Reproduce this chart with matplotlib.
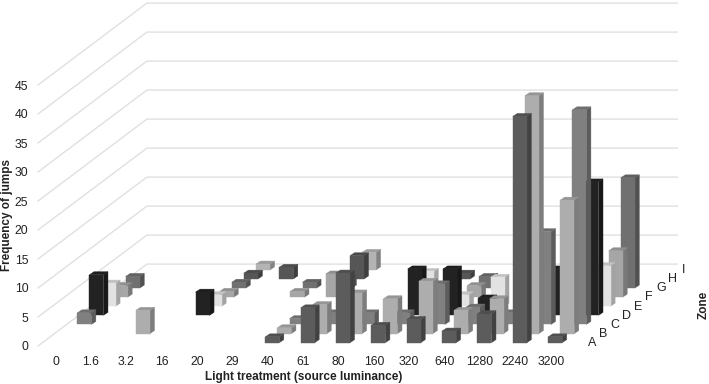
import matplotlib
matplotlib.use("Agg")
import matplotlib.pyplot as plt
from matplotlib.colors import to_rgb

plt.rcParams['font.family'] = ['Liberation Sans', 'DejaVu Sans']

categories = ['0', '1.6', '3.2', '16', '20', '29', '40', '61', '80', '160', '320', '640', '1280', '2240', '3200']
zones = ['A', 'B', 'C', 'D', 'E', 'F', 'G', 'H', 'I']
yticks = [0, 5, 10, 15, 20, 25, 30, 35, 40, 45]

zone_a = [0, 0, 0, 0, 0, 0, 1, 6, 12, 3, 4, 2, 5, 39, 1]
zone_b = [0, 0, 4, 0, 0, 0, 1, 5, 7, 6, 9, 4, 6, 41, 23]
zone_c = [2, 0, 0, 0, 0, 0, 1, 2, 2, 2, 7, 3, 2, 16, 37]
zone_d = [7, 0, 0, 4, 0, 0, 0, 0, 0, 8, 8, 3, 0, 8, 23]
zone_e = [4, 0, 0, 2, 0, 0, 0, 0, 0, 6, 2, 5, 0, 0, 7]
zone_f = [2, 0, 0, 1, 0, 1, 4, 0, 0, 0, 2, 0, 0, 0, 8]
zone_g = [2, 0, 0, 1, 0, 1, 2, 0, 0, 0, 2, 0, 0, 0, 19]
zone_h = [0, 0, 0, 1, 2, 0, 4, 0, 0, 1, 0, 0, 0, 0, 0]
zone_i = [0, 0, 0, 1, 0, 0, 3, 0, 0, 0, 0, 0, 0, 0, 0]
zone_values = [zone_a, zone_b, zone_c, zone_d, zone_e, zone_f, zone_g, zone_h, zone_i]
zone_colors = ['#5c5c5c', '#adadad', '#808080', '#222222', '#e2e2e2', '#a6a6a6', '#707070', '#565656', '#b4b4b4']

# one zone step on the oblique projection, in category / value units
dx = 12.1 / 35.36
dy = 9.1 / 5.8
bar_w = 14 / 35.36
bar_dx = 4.5 / 35.36
bar_dy = 3 / 5.8
gap = 0.37


def shade(c, f):
    return tuple(v * f for v in to_rgb(c))


W, H = 709, 384
fig = plt.figure(figsize=(W / 100, H / 100), dpi=100)
ax = fig.add_axes([38 / W, 1 - 346 / H, 530.4 / W, 261 / H])
ax.set_xlim(-0.5, 14.5)
ax.set_ylim(0, 45)
for s in ax.spines.values():
    s.set_visible(False)
ax.patch.set_visible(False)

ax.set_xticks(range(len(categories)))
ax.set_xticklabels(categories, fontsize=8.8, color='#222222')
ax.set_yticks(yticks)
ax.tick_params(axis='both', length=0, labelsize=8.8, labelcolor='#222222')
ax.tick_params(axis='x', pad=7)
ax.tick_params(axis='y', pad=7)

# walls
for v in yticks:
    xs = [-0.5, -0.5 + 9 * dx, 14.5 + 9 * dx]
    ys = [v, v + 9 * dy, v + 9 * dy]
    ax.plot(xs, ys, color='#e0e0e0', lw=1, clip_on=False, zorder=1)

# bars, back zone first
z = 2
for k in range(len(zones) - 1, -1, -1):
    col = zone_colors[k]
    for i, val in enumerate(zone_values[k]):
        if val == 0:
            continue
        x0 = i + (k + gap) * dx - bar_w / 2
        x1 = x0 + bar_w
        y0 = (k + gap) * dy
        y1 = y0 + val
        front = [(x0, y0), (x1, y0), (x1, y1), (x0, y1)]
        top = [(x0, y1), (x1, y1), (x1 + bar_dx, y1 + bar_dy), (x0 + bar_dx, y1 + bar_dy)]
        side = [(x1, y0), (x1 + bar_dx, y0 + bar_dy), (x1 + bar_dx, y1 + bar_dy), (x1, y1)]
        ax.fill(*zip(*side), color=shade(col, 0.72), lw=0.3, clip_on=False, zorder=z)
        ax.fill(*zip(*top), color=shade(col, 0.86), lw=0.3, clip_on=False, zorder=z)
        ax.fill(*zip(*front), color=col, lw=0.3, clip_on=False, zorder=z)
        z += 1

for k, name in enumerate(zones):
    ax.text(14.5 + 0.5 + (k + 0.5) * 0.325, (k + 0.5) * dy - 0.25, name, fontsize=9, color='#222222',
            ha='center', va='center', zorder=200)

fig.text(304 / W, 1 - 377 / H, 'Light treatment (source luminance)', fontsize=8.5, fontweight='bold',
         color='#222222', ha='center', va='center')
fig.text(7.5 / W, 1 - 215 / H, 'Frequency of jumps', fontsize=8.5, fontweight='bold', color='#222222',
         rotation=90, ha='center', va='center')
fig.text(704 / W, 1 - 305 / H, 'Zone', fontsize=8.5, fontweight='bold', color='#222222',
         rotation=90, ha='center', va='center')

fig.savefig('out.png', dpi=100)
